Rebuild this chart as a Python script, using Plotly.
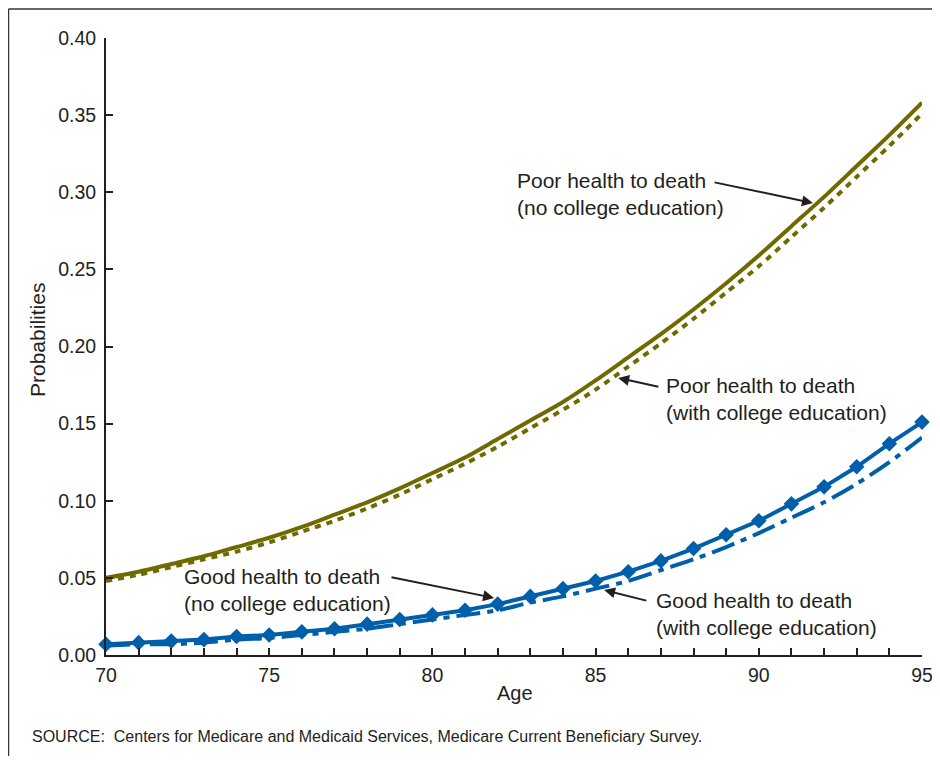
import plotly.graph_objects as go

ages = list(range(70, 96))

poor_no_college = [0.050, 0.054, 0.059, 0.064, 0.070, 0.076, 0.083, 0.091, 0.099, 0.108,
                   0.118, 0.128, 0.140, 0.152, 0.164, 0.178, 0.193, 0.208, 0.224, 0.241,
                   0.259, 0.278, 0.297, 0.317, 0.337, 0.358]
poor_college = [0.048, 0.052, 0.057, 0.062, 0.067, 0.073, 0.080, 0.087, 0.095, 0.104,
                0.114, 0.124, 0.135, 0.147, 0.159, 0.172, 0.187, 0.202, 0.218, 0.235,
                0.252, 0.271, 0.290, 0.310, 0.330, 0.351]
good_no_college = [0.007, 0.008, 0.009, 0.010, 0.012, 0.013, 0.015, 0.017, 0.020, 0.023,
                   0.026, 0.029, 0.033, 0.038, 0.043, 0.048, 0.054, 0.061, 0.069, 0.078,
                   0.087, 0.098, 0.109, 0.122, 0.137, 0.151]
good_college = [0.006, 0.007, 0.007, 0.008, 0.010, 0.011, 0.013, 0.015, 0.017, 0.020,
                0.023, 0.026, 0.029, 0.034, 0.038, 0.043, 0.048, 0.055, 0.062, 0.070,
                0.079, 0.089, 0.099, 0.111, 0.125, 0.141]

y_ticks = [0.00, 0.05, 0.10, 0.15, 0.20, 0.25, 0.30, 0.35, 0.40]
x_ticks = [70, 75, 80, 85, 90, 95]

OLIVE = "#6f6a00"
BLUE = "#005fab"
INK = "#231f20"
FONT = "Liberation Sans, Arial, sans-serif"

fig = go.Figure()
fig.add_trace(go.Scatter(x=ages, y=poor_college, mode="lines", cliponaxis=False,
                         line=dict(color=OLIVE, width=4, dash="6px,6px", shape="spline", smoothing=0.8)))
fig.add_trace(go.Scatter(x=ages, y=poor_no_college, mode="lines", cliponaxis=False,
                         line=dict(color=OLIVE, width=4, shape="spline", smoothing=0.8)))
fig.add_trace(go.Scatter(x=ages, y=good_college, mode="lines", cliponaxis=False,
                         line=dict(color=BLUE, width=4, dash="24px,7px,6px,7px", shape="spline", smoothing=0.8)))
fig.add_trace(go.Scatter(x=ages, y=good_no_college, mode="lines+markers", cliponaxis=False,
                         line=dict(color=BLUE, width=4),
                         marker=dict(symbol="diamond", size=12, color=BLUE)))

annos = [
    # (text, text_x, text_y, tip_x, tip_y, tail_x, tail_y)
    ("Poor health to death<br>(no college education)", 82.53, 0.2989, 91.66, 0.293, 88.6, 0.3066),
    ("Poor health to death<br>(with college education)", 87.10, 0.1660, 85.69, 0.1796, 86.97, 0.1737),
    ("Good health to death<br>(no college education)", 72.33, 0.0421, 81.89, 0.0370, 78.70, 0.0506),
    ("Good health to death<br>(with college education)", 86.79, 0.0266, 85.26, 0.0421, 86.60, 0.0350),
]
for text, tx, ty, hx, hy, ax, ay in annos:
    fig.add_annotation(x=tx, y=ty, xref="x", yref="y", text=text, showarrow=False,
                       xanchor="left", yanchor="middle", align="left",
                       font=dict(family=FONT, size=21, color=INK))
    fig.add_annotation(x=hx, y=hy, xref="x", yref="y", ax=ax, ay=ay, axref="x", ayref="y",
                       text="", showarrow=True, arrowhead=2, arrowsize=1.1,
                       arrowwidth=2, arrowcolor=INK)

fig.add_annotation(x=0.501, y=-0.0616, xref="paper", yref="paper", text="Age",
                   showarrow=False, xanchor="center", yanchor="middle",
                   font=dict(family=FONT, size=20, color=INK))
fig.add_annotation(x=-0.0846, y=0.5105, xref="paper", yref="paper", text="Probabilities",
                   showarrow=False, textangle=-90, xanchor="center", yanchor="middle",
                   font=dict(family=FONT, size=21, color=INK))
fig.add_annotation(x=-0.0931, y=-0.1329, xref="paper", yref="paper",
                   text="SOURCE:  Centers for Medicare and Medicaid Services, Medicare Current Beneficiary Survey.",
                   showarrow=False, xanchor="left", yanchor="middle",
                   font=dict(family=FONT, size=16, color=INK))

# outer frame (top and left edges)
fig.add_shape(type="line", xref="paper", yref="paper", x0=-0.1195, x1=1.03, y0=1.047, y1=1.047,
              line=dict(color="#333333", width=1.5))
fig.add_shape(type="line", xref="paper", yref="paper", x0=-0.1195, x1=-0.1195, y0=-0.19, y1=1.047,
              line=dict(color="#333333", width=1.5))

fig.update_layout(
    width=924, height=748,
    margin=dict(l=98, r=10, t=30, b=101, autoexpand=False),
    paper_bgcolor="white", plot_bgcolor="white",
    showlegend=False,
    font=dict(family=FONT, color=INK),
)
fig.update_xaxes(range=[70, 95], tickvals=x_ticks, ticktext=[str(v) for v in x_ticks],
                 automargin=False,
                 showgrid=False, zeroline=False, showline=True, linecolor=INK, linewidth=2,
                 ticks="inside", ticklen=7, tickwidth=2, tickcolor=INK, ticklabelstandoff=2,
                 ticklabeloverflow="allow",
                 tickfont=dict(family=FONT, size=19.5, color=INK),
                 minor=dict(dtick=1, tick0=70, ticks="inside", ticklen=7, tickwidth=2, tickcolor=INK, showgrid=False))
fig.update_yaxes(range=[0, 0.4], tickvals=y_ticks, ticktext=[f"{v:.2f}" for v in y_ticks],
                 automargin=False,
                 showgrid=False, zeroline=False, showline=True, linecolor=INK, linewidth=2,
                 ticks="inside", ticklen=7, tickwidth=2, tickcolor=INK, ticklabelstandoff=4,
                 ticklabeloverflow="allow",
                 tickfont=dict(family=FONT, size=19.5, color=INK))

fig.write_html("out.html")
